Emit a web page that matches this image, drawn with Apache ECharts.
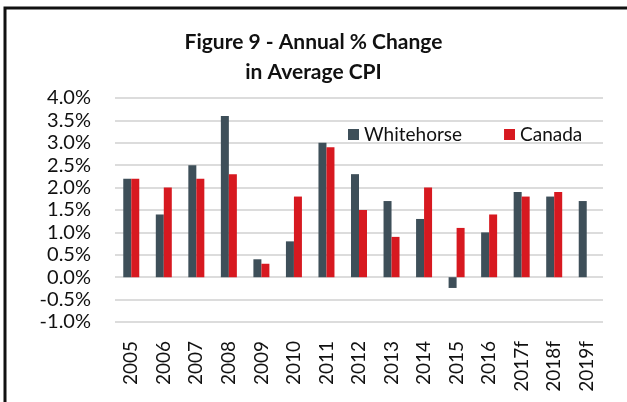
<!DOCTYPE html>
<html>
<head>
<meta charset="utf-8">
<script src="https://cdn.jsdelivr.net/npm/echarts@6/dist/echarts.min.js"></script>
<style>
  html, body { margin: 0; padding: 0; background: #fff; }
</style>
</head>
<body>
<div id="myChart" style="width:627px;height:402px"></div>
<script>
var years = ['2005', '2006', '2007', '2008', '2009', '2010', '2011', '2012', '2013', '2014', '2015', '2016', '2017f', '2018f', '2019f']
var whitehorse = [2.2, 1.4, 2.5, 3.6, 0.4, 0.8, 3.0, 2.3, 1.7, 1.3, -0.24, 1.0, 1.9, 1.8, 1.7]
var canada = [2.2, 2.0, 2.2, 2.3, 0.3, 1.8, 2.9, 1.5, 0.9, 2.0, 1.1, 1.4, 1.8, 1.9, null]

var font = 'Lato'

var myChart = echarts.init(document.getElementById('myChart'))

myChart.setOption({
  animation: false,
  color: ['#3e4f59', '#d71920'],
  title: {
    text: 'Figure 9 - Annual % Change\nin Average CPI',
    left: 'center',
    top: 22,
    padding: [5, 0, 5, 12],
    textStyle: {
      fontFamily: font,
      fontSize: 21,
      fontWeight: 'bold',
      color: '#111',
      lineHeight: 30
    }
  },
  legend: {
    data: ['Whitehorse', 'Canada'],
    left: 343,
    top: 120,
    icon: 'rect',
    itemWidth: 11,
    itemHeight: 11,
    itemGap: 42,
    textStyle: { fontFamily: font, fontSize: 19, color: '#111' }
  },
  grid: {
    left: 115,
    right: 24,
    top: 98,
    bottom: 80
  },
  xAxis: {
    type: 'category',
    data: years,
    axisLine: { show: false, onZero: false },
    axisTick: { show: false },
    axisLabel: {
      rotate: 90,
      margin: 19,
      fontFamily: font,
      fontSize: 19,
      color: '#111'
    }
  },
  yAxis: {
    type: 'value',
    min: -1,
    max: 4,
    interval: 0.5,
    axisLine: { show: false },
    axisTick: { show: false },
    splitLine: { lineStyle: { color: '#dcdcdc', width: 2 } },
    axisLabel: {
      margin: 24,
      fontFamily: font,
      fontSize: 20,
      color: '#111',
      formatter: function (v) { return v.toFixed(1) + '%' }
    }
  },
  graphic: [{
    type: 'polyline',
    shape: { points: [[5, 410], [5, 8], [640, 8]] },
    style: { stroke: '#111', lineWidth: 3, fill: null }
  }],
  series: [{
    name: 'Whitehorse',
    type: 'bar',
    data: whitehorse,
    barWidth: 8,
    barGap: '0%'
  }, {
    name: 'Canada',
    type: 'bar',
    data: canada,
    barWidth: 8,
    barGap: '0%'
  }]
})
</script>
</body>
</html>
